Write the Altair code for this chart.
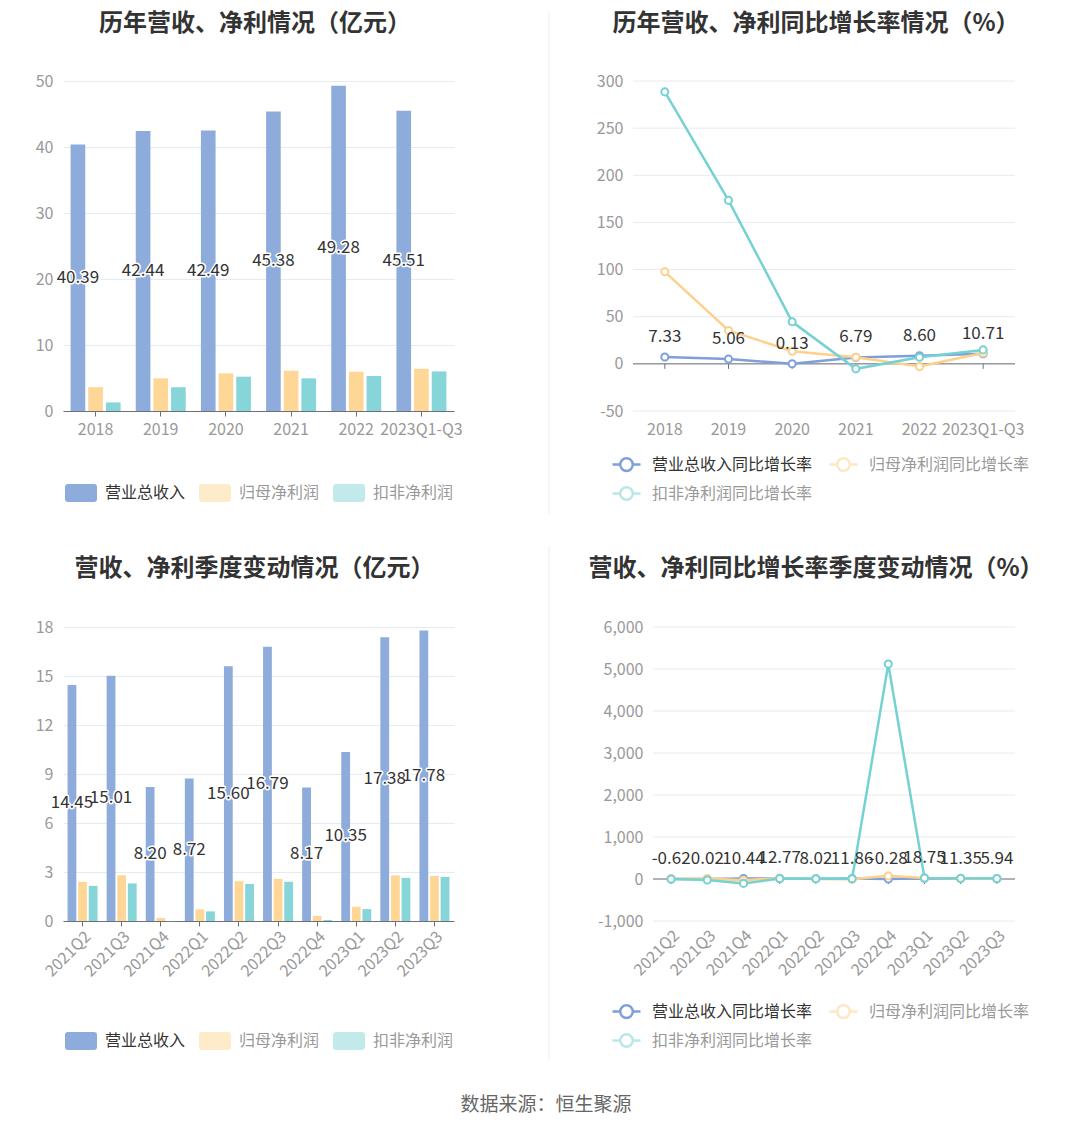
import altair as alt
import pandas as pd

FONT = "Noto Sans CJK SC"

# ---------------- data ----------------
years = ["2018", "2019", "2020", "2021", "2022", "2023Q1-Q3"]
year_revenue = [40.39, 42.44, 42.49, 45.38, 49.28, 45.51]
year_profit = [3.6, 4.95, 5.7, 6.1, 5.95, 6.4]
year_deducted = [1.3, 3.6, 5.2, 4.95, 5.3, 6.0]

year_revenue_yoy = [7.33, 5.06, 0.13, 6.79, 8.60, 10.71]
year_profit_yoy = [97.6, 35.4, 13.4, 7.0, -2.9, 11.5]
year_deducted_yoy = [288.5, 173.4, 44.6, -5.3, 7.0, 14.8]

quarters = ["2021Q2", "2021Q3", "2021Q4", "2022Q1", "2022Q2",
            "2022Q3", "2022Q4", "2023Q1", "2023Q2", "2023Q3"]
q_revenue = [14.45, 15.01, 8.20, 8.72, 15.60, 16.79, 8.17, 10.35, 17.38, 17.78]
q_profit = [2.4, 2.8, 0.18, 0.71, 2.44, 2.58, 0.3, 0.87, 2.79, 2.76]
q_deducted = [2.15, 2.3, -0.01, 0.59, 2.27, 2.4, 0.06, 0.73, 2.64, 2.7]

q_revenue_yoy = [-0.62, 0.02, 10.44, 12.77, 8.02, 11.86, -0.28, 18.75, 11.35, 5.94]
q_profit_yoy = [5.0, 12.0, -30.0, 20.0, 2.0, -8.0, 75.0, 22.0, 14.0, 7.0]
q_deducted_yoy = [0.0, -25.0, -105.0, 10.0, 5.0, 4.0, 5120.0, 24.0, 16.0, 12.0]

bar_series = ["营业总收入", "归母净利润", "扣非净利润"]
line_series = ["营业总收入同比增长率", "归母净利润同比增长率", "扣非净利润同比增长率"]
bar_colors = ["#8eacdb", "#fed796", "#86d5d8"]
line_colors = ["#7f9fda", "#fdd08c", "#76d1d2"]

titles = ["历年营收、净利情况（亿元）", "历年营收、净利同比增长率情况（%）",
          "营收、净利季度变动情况（亿元）", "营收、净利同比增长率季度变动情况（%）"]
footer = "数据来源：恒生聚源"

# ---------------- style ----------------
LABEL_GREY = "#999999"
AXIS_DARK = "#6e7079"
GRID = "#e6eaf3"
RECT_PATH = ("M-0.8125,-0.5625L0.8125,-0.5625Q1,-0.5625,1,-0.375L1,0.375"
             "Q1,0.5625,0.8125,0.5625L-0.8125,0.5625Q-1,0.5625,-1,0.375"
             "L-1,-0.375Q-1,-0.5625,-0.8125,-0.5625Z")
LINE_PATH = ("M-1,0L-0.45,0M0.45,0L1,0M-0.45,0A0.45,0.45,0,1,1,0.45,0"
             "A0.45,0.45,0,1,1,-0.45,0")


def long_df(cats, series, arrays):
    rows = []
    for s, arr in zip(series, arrays):
        for c, v in zip(cats, arr):
            rows.append({"cat": c, "series": s, "value": v, "lbl": f"{v:.2f}"})
    return pd.DataFrame(rows)


def one_row():
    return alt.Chart(pd.DataFrame({"a": [0]}))


def anchor(x, y):
    return one_row().mark_rect(opacity=0).encode(
        x=alt.value(x), x2=alt.value(x + 1), y=alt.value(y), y2=alt.value(y + 1))


def title_mark(text, x, y):
    return alt.Chart(pd.DataFrame({"t": [text]})).mark_text(
        font=FONT, fontSize=24, fontWeight="bold", color="#333333",
        baseline="alphabetic", align="center").encode(
        x=alt.value(x), y=alt.value(y), text="t:N")


def divider(y, y2):
    return one_row().mark_rule(color="#eeeeee", strokeWidth=1).encode(
        x=alt.value(486), y=alt.value(y), y2=alt.value(y2))


def bar_panel(cats, arrays, ymax, ystep, w, h, rotate, legend_y, extra):
    df = long_df(cats, bar_series, arrays)
    y_axis = alt.Axis(values=list(range(0, ymax + 1, ystep)), domain=False, ticks=False,
                      labelPadding=10, labelColor=LABEL_GREY, labelFont=FONT,
                      labelFontSize=16, gridColor=GRID, title=None)
    x_axis = alt.Axis(domainColor=AXIS_DARK, tickColor=AXIS_DARK, tickSize=5,
                      labelColor=LABEL_GREY, labelFont=FONT, labelFontSize=16,
                      labelPadding=2 if rotate else 5, labelAngle=-45 if rotate else 0,
                      grid=False, title=None)
    x_enc = alt.X("cat:N", sort=cats, title=None,
                  scale=alt.Scale(paddingInner=0.233, paddingOuter=0.1165), axis=x_axis)
    xo = alt.XOffset("series:N", sort=bar_series,
                     scale=alt.Scale(domain=bar_series, paddingInner=0.17, paddingOuter=0))
    y_scale = alt.Scale(domain=[0, ymax], nice=False)
    legend = alt.Legend(orient="none", legendX=2, legendY=legend_y, direction="horizontal",
                        title=None, symbolType=RECT_PATH, symbolSize=1024, symbolStrokeWidth=0,
                        labelFont=FONT, labelFontSize=16, labelOffset=8, columnPadding=13,
                        padding=0, labelLimit=400,
                        labelColor={"expr": "datum.label === '营业总收入' ? '#333333' : '#999999'"},
                        symbolOpacity={"expr": "datum.label === '营业总收入' ? 1 : 0.5"})
    bars = alt.Chart(df).mark_bar().encode(
        x=x_enc, xOffset=xo,
        y=alt.Y("value:Q", scale=y_scale, axis=y_axis),
        color=alt.Color("series:N", sort=bar_series,
                        scale=alt.Scale(domain=bar_series, range=bar_colors), legend=legend))
    lab = alt.Chart(df).transform_filter(alt.datum.series == bar_series[0]).transform_calculate(
        mid="datum.value / 2")
    y_mid = alt.Y("mid:Q", scale=y_scale, axis=y_axis)
    halo = lab.mark_text(font=FONT, fontSize=17, stroke="white", strokeWidth=3,
                         fill="white", strokeJoin="round").encode(
        x=x_enc, xOffset=xo, y=y_mid, text="lbl:N")
    txt = lab.mark_text(font=FONT, fontSize=17, fill="#333333").encode(
        x=x_enc, xOffset=xo, y=y_mid, text="lbl:N")
    return alt.layer(bars, halo, txt, *extra).properties(width=w, height=h)


def line_panel(cats, arrays, ymin, ymax, ystep, x0, w, h, rotate, legend_x, legend_y, extra):
    df = long_df(cats, line_series, arrays)
    x_axis = alt.Axis(domain=False, ticks=False, grid=False, labelColor=LABEL_GREY,
                      labelFont=FONT, labelFontSize=16, labelPadding=6 if rotate else 10,
                      labelAngle=-45 if rotate else 0, title=None)
    x_enc = alt.X("cat:N", sort=cats, title=None,
                  scale=alt.Scale(type="band", range=[x0, w], paddingInner=0, paddingOuter=0),
                  axis=x_axis)
    y_scale = alt.Scale(domain=[ymin, ymax], nice=False, zero=False)
    y_values = list(range(ymin, ymax + 1, ystep))
    axis_kw = dict(values=y_values, format=",.0f",
                   labelExpr="replace(datum.label, '\u2212', '-')",
                   domain=False, ticks=False, grid=False, labelPadding=10,
                   labelColor=LABEL_GREY, labelFont=FONT, labelFontSize=16, title=None)
    if x0:
        axis_kw["offset"] = -x0
    y_axis = alt.Axis(**axis_kw)
    y_enc = alt.Y("value:Q", scale=y_scale, axis=y_axis)
    grid = alt.Chart(pd.DataFrame({"v": y_values})).mark_rule(color=GRID, strokeWidth=1).encode(
        x=alt.value(x0), x2=alt.value(w), y=alt.Y("v:Q", scale=y_scale, axis=y_axis))
    zero_line = alt.Chart(pd.DataFrame({"z": [0]})).mark_rule(
        color=AXIS_DARK, strokeWidth=1).encode(
        x=alt.value(x0), x2=alt.value(w), y=alt.Y("z:Q", scale=y_scale, axis=y_axis))
    zdf = pd.DataFrame({"cat": cats, "z": [0] * len(cats)})
    ticks = alt.Chart(zdf).mark_rule(color=AXIS_DARK, strokeWidth=1, y2Offset=5).encode(
        x=x_enc, y=alt.Y("z:Q", scale=y_scale, axis=y_axis), y2="z:Q")
    legend = alt.Legend(orient="none", legendX=legend_x, legendY=legend_y,
                        direction="horizontal", columns=2, title=None,
                        symbolType=LINE_PATH, symbolSize=784, symbolStrokeWidth=2.5,
                        labelFont=FONT, labelFontSize=16, labelOffset=10, labelLimit=400,
                        columnPadding=11, rowPadding=2, padding=0,
                        labelColor={"expr": "datum.label === '营业总收入同比增长率' ? '#333333' : '#999999'"},
                        symbolOpacity={"expr": "datum.label === '营业总收入同比增长率' ? 1 : 0.5"})
    color = alt.Color("series:N", sort=line_series,
                      scale=alt.Scale(domain=line_series, range=line_colors), legend=legend)
    layers = [grid, zero_line, ticks]
    for s in line_series:
        sub = alt.Chart(df).transform_filter(alt.datum.series == s)
        layers.append(sub.mark_line(strokeWidth=2.5).encode(x=x_enc, y=y_enc, color=color))
        layers.append(sub.mark_point(filled=False, fill="white", size=50, strokeWidth=2,
                                     opacity=1).encode(x=x_enc, y=y_enc, color=color))
    lab = alt.Chart(df).transform_filter(alt.datum.series == line_series[0])
    layers.append(lab.mark_text(font=FONT, fontSize=17, fill="#333333", dy=-20).encode(
        x=x_enc, y=y_enc, text="lbl:N"))
    return alt.layer(*layers, *extra).properties(width=w, height=h)


p1 = bar_panel(years, [year_revenue, year_profit, year_deducted], 50, 10, 391, 330,
               False, 396,
               [anchor(-54, -72), title_mark(titles[0], 192, -50),
                divider(-70, 433)])
p2 = line_panel(years, [year_revenue_yoy, year_profit_yoy, year_deducted_yoy],
                -50, 300, 50, 0, 382, 330, False, -22, 368,
                [title_mark(titles[1], 183, -50)])
footer_mark = alt.Chart(pd.DataFrame({"t": [footer]})).mark_text(
    font=FONT, fontSize=19, color="#666666", align="center", baseline="middle").encode(
    x=alt.value(483), y=alt.value(478), text="t:N")
p3 = bar_panel(quarters, [q_revenue, q_profit, q_deducted], 18, 3, 391, 294,
               True, 398,
               [title_mark(titles[2], 191.5, -51), divider(-81, 434), footer_mark])
p4 = line_panel(quarters, [q_revenue_yoy, q_profit_yoy, q_deducted_yoy],
                -1000, 6000, 1000, 20, 382, 294, True, -22, 369,
                [title_mark(titles[3], 183, -51)])

chart = alt.concat(p1, p2, p3, p4, columns=2, spacing={"row": 216, "column": 179},
                   bounds="flush").resolve_scale(
    color="independent", xOffset="independent").resolve_legend(
    color="independent").properties(padding=0).configure(
    background="white", view=alt.ViewConfig(stroke="transparent"))

chart.save("out.html", embed_options={"renderer": "svg", "actions": False})
